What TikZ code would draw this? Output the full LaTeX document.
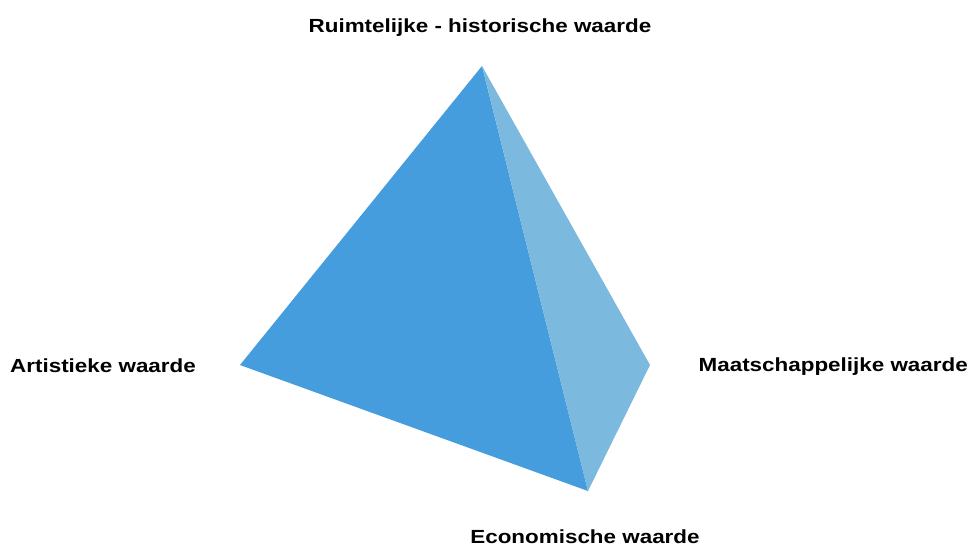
\documentclass[tikz,border=0pt]{standalone}
\usepackage{fontspec}
\setmainfont{Liberation Sans}
\definecolor{darkface}{HTML}{459DDD}
\definecolor{lightface}{HTML}{7BB9DE}
\newcommand{\widetxt}[1]{\scalebox{1.18}[1]{#1}}
\begin{document}
\begin{tikzpicture}[x=1pt,y=-1pt,
  lbl/.style={font=\bfseries\fontsize{19}{22}\selectfont, inner sep=0pt}]
\useasboundingbox[fill=white] (0,0) rectangle (969,547);
\coordinate (T) at (482,66);
\coordinate (L) at (240,365);
\coordinate (R) at (650,365);
\coordinate (B) at (588,491);
\fill[darkface] (T) -- (L) -- (B) -- cycle;
\fill[lightface] (T) -- (B) -- (R) -- cycle;
\node[lbl] (tl) at (480,28) {\widetxt{Ruimtelijke - historische waarde}};
\node[lbl,anchor=west] (ll) at (10,366) {\widetxt{Artistieke waarde}};
\node[lbl,anchor=east] (rl) at (968,367) {\widetxt{Maatschappelijke waarde}};
\node[lbl] (bl) at (585,537) {\widetxt{Economische waarde}};
\end{tikzpicture}
\end{document}
